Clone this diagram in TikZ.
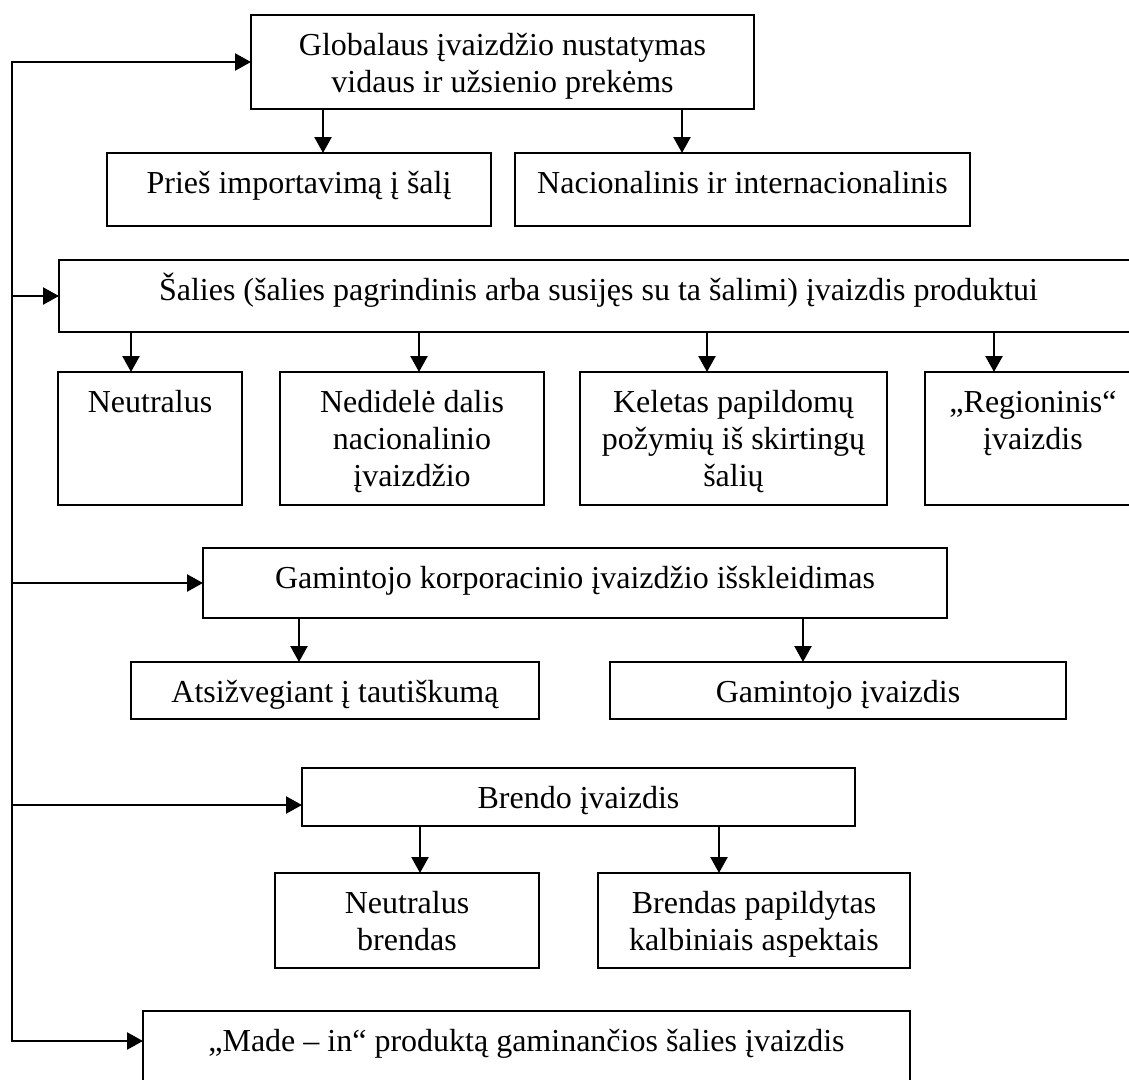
\documentclass[tikz,border=0pt]{standalone}
\usepackage{fontspec}
\setmainfont{Liberation Serif}
\usetikzlibrary{arrows.meta}

% box content: fixed-size parbox, first baseline 40pt below the top edge
\newcommand\celltext[3]{\parbox[c][#2][t]{#1}{\centering\rule{0pt}{40pt}#3}}

\tikzset{
  box/.style={draw, line width=1.6pt, rectangle, inner sep=0pt, outer sep=0pt,
              font=\fontsize{32}{37}\selectfont},
  conn/.style={line width=2pt, line cap=rect},
  arr/.style={line width=2.4pt, -{Triangle[length=16pt,width=17pt]}}
}

\begin{document}
\begin{tikzpicture}[x=1pt, y=-1pt]
  \clip (0,0) rectangle (1129,1079);
  \fill[white] (0,0) rectangle (1129,1079);

  % first level
  \node[box] (g)    at (502.5,62)   {\celltext{503pt}{94pt}{Globalaus įvaizdžio nustatymas\\ vidaus ir užsienio prekėms}};
  \node[box] (prie) at (299,189.5)  {\celltext{384pt}{73pt}{Prieš importavimą į šalį}};
  \node[box] (nac)  at (742.5,189.5){\celltext{455pt}{73pt}{Nacionalinis ir internacionalinis}};

  % country image
  \node[box] (sal)  at (598.5,296)  {\celltext{1079pt}{72pt}{Šalies (šalies pagrindinis arba susijęs su ta šalimi) įvaizdis produktui}};
  \node[box] (neu)  at (150,438.5)  {\celltext{184pt}{133pt}{Neutralus}};
  \node[box] (ned)  at (412,438.5)  {\celltext{264pt}{133pt}{Nedidelė dalis\\ nacionalinio\\ įvaizdžio}};
  \node[box] (kel)  at (733.5,438.5){\celltext{307pt}{133pt}{Keletas papildomų\\ požymių iš skirtingų\\ šalių}};
  \node[box] (reg)  at (1033,438.5) {\celltext{216pt}{133pt}{„Regioninis“\\ įvaizdis}};

  % manufacturer
  \node[box] (gam)  at (575,583)    {\celltext{744pt}{70pt}{Gamintojo korporacinio įvaizdžio išskleidimas}};
  \node[box] (ats)  at (335,690.5)  {\celltext{408pt}{57pt}{Atsižvegiant į tautiškumą}};
  \node[box] (gi)   at (838,690.5)  {\celltext{456pt}{57pt}{Gamintojo įvaizdis}};

  % brand
  \node[box] (br)   at (578.5,797)  {\celltext{553pt}{58pt}{Brendo įvaizdis}};
  \node[box] (nb)   at (407,920.5)  {\celltext{264pt}{95pt}{Neutralus\\ brendas}};
  \node[box] (bp)   at (754,920.5)  {\celltext{312pt}{95pt}{Brendas papildytas\\ kalbiniais aspektais}};

  % made-in
  \node[box] (mi)   at (526.5,1051) {\celltext{767pt}{80pt}{„Made – in“ produktą gaminančios šalies įvaizdis}};

  % left bus
  \coordinate (bustop) at (12,62);
  \coordinate (busbot) at (12,1041);
  \draw[conn] (bustop) -- (busbot);
  \draw[arr] (bustop) -- (g.west);
  \draw[arr] (sal.west -| bustop) -- (sal.west);
  \draw[arr] (gam.west -| bustop) -- (gam.west);
  \draw[arr] ([yshift=-8pt]br.west -| bustop) -- ([yshift=-8pt]br.west);
  \draw[arr] (busbot) -- ([yshift=-30pt]mi.north west);

  % downward connectors
  \draw[arr] ([xshift=24pt]prie.north |- g.south) -- ([xshift=24pt]prie.north);
  \draw[arr] ([xshift=-60.5pt]nac.north |- g.south) -- ([xshift=-60.5pt]nac.north);

  \draw[arr] ([xshift=-19pt]neu.north |- sal.south) -- ([xshift=-19pt]neu.north);
  \draw[arr] ([xshift=7pt]ned.north |- sal.south) -- ([xshift=7pt]ned.north);
  \draw[arr] ([xshift=-26.5pt]kel.north |- sal.south) -- ([xshift=-26.5pt]kel.north);
  \draw[arr] ([xshift=-39pt]reg.north |- sal.south) -- ([xshift=-39pt]reg.north);

  \draw[arr] ([xshift=-36pt]ats.north |- gam.south) -- ([xshift=-36pt]ats.north);
  \draw[arr] ([xshift=-35pt]gi.north |- gam.south) -- ([xshift=-35pt]gi.north);

  \draw[arr] ([xshift=13pt]nb.north |- br.south) -- ([xshift=13pt]nb.north);
  \draw[arr] ([xshift=-35pt]bp.north |- br.south) -- ([xshift=-35pt]bp.north);
\end{tikzpicture}
\end{document}
